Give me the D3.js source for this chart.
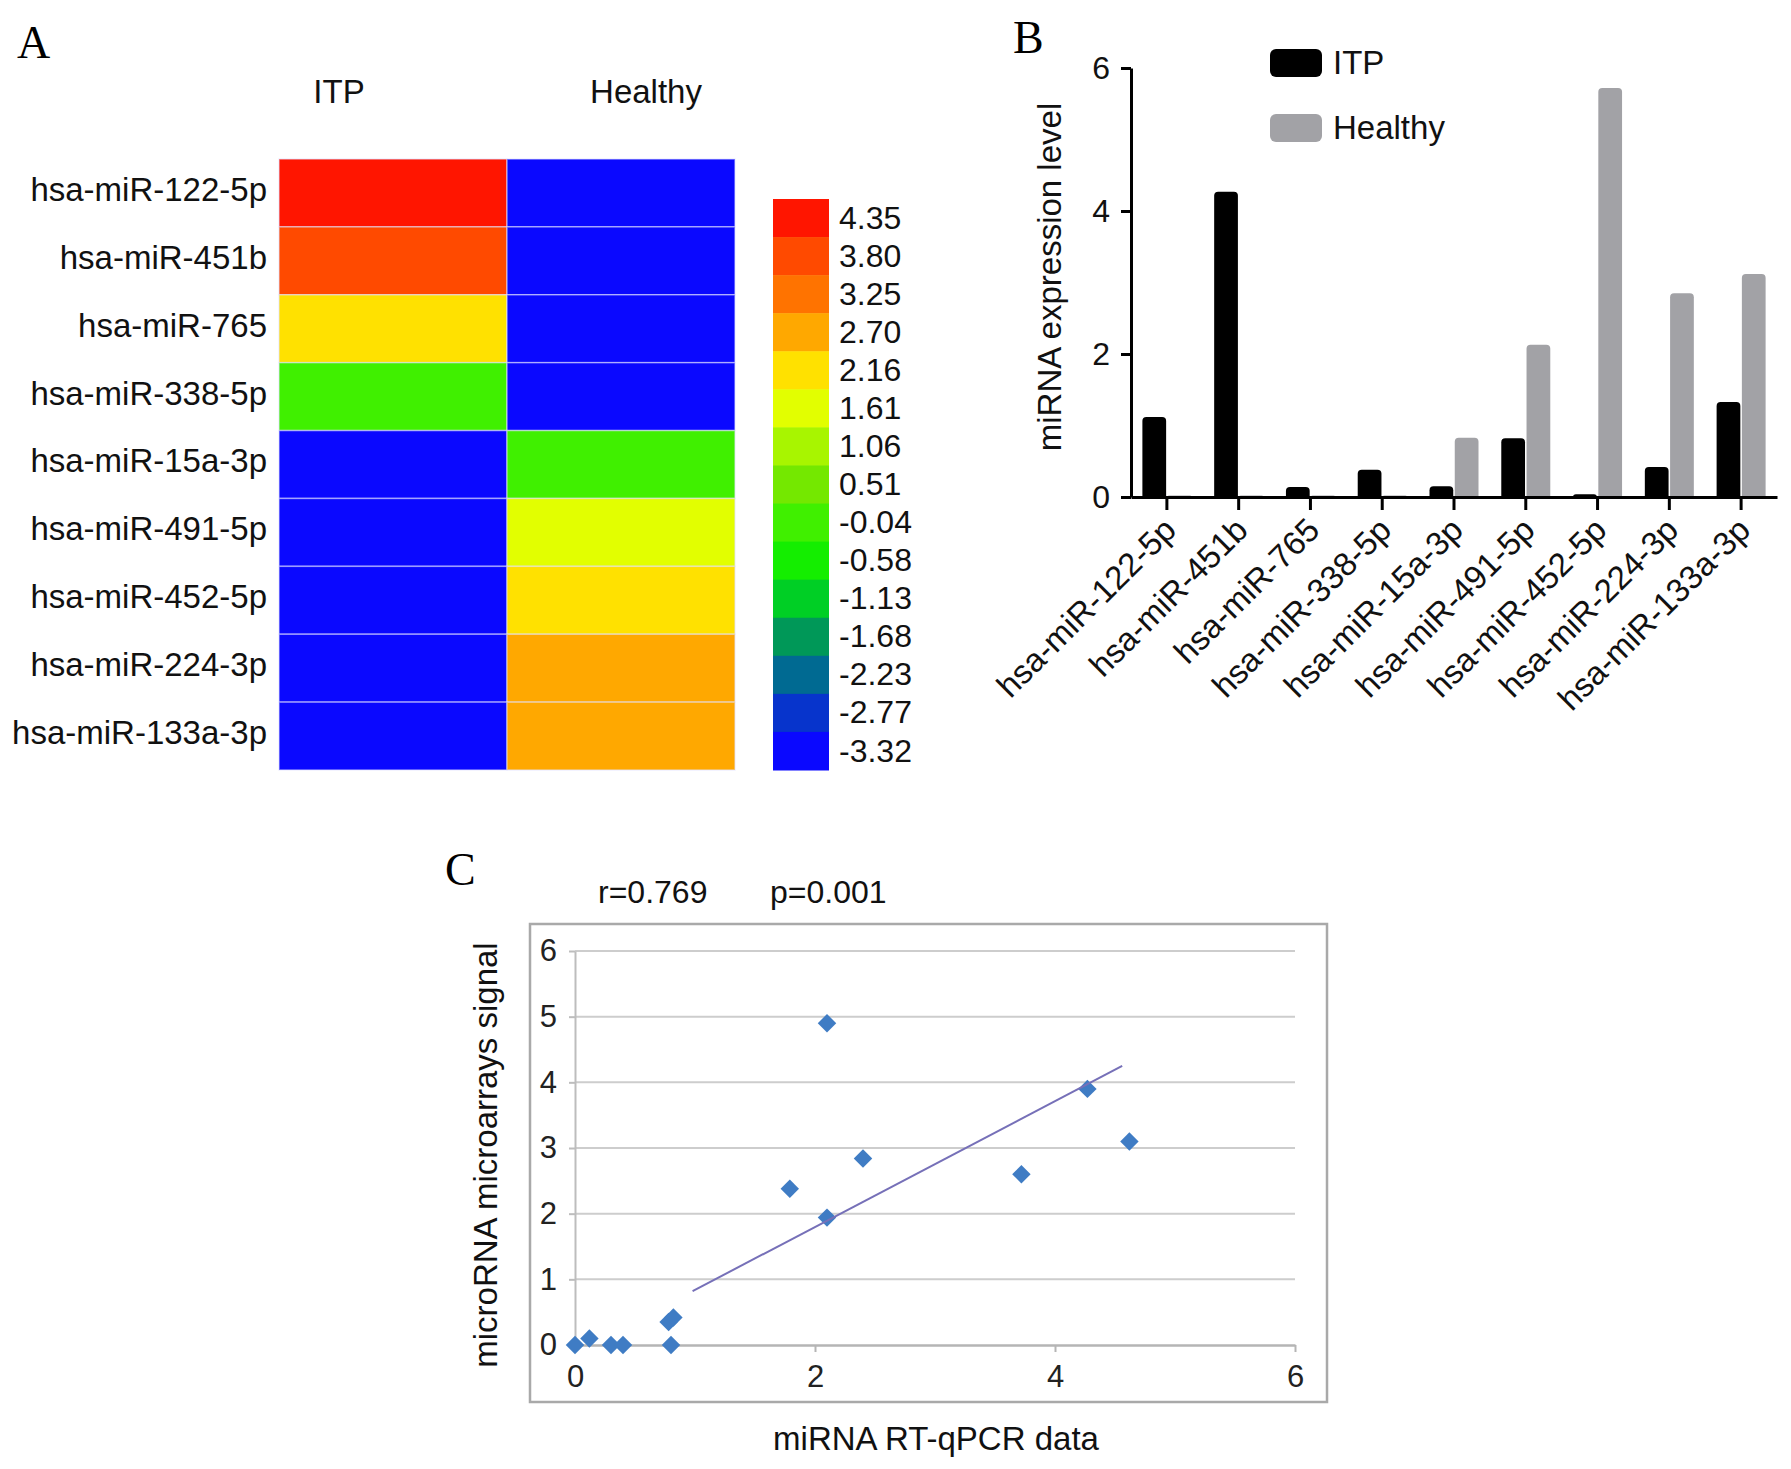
<!DOCTYPE html>
<html><head><meta charset="utf-8">
<script src="https://cdn.jsdelivr.net/npm/d3@7"></script>
<style>
body{margin:0;background:#fff}
svg text{font-family:"Liberation Sans",Arial,Helvetica,sans-serif;}
.serif{font-family:"Liberation Serif","Times New Roman",serif !important;}
</style>
</head><body>
<svg id="fig" width="1791" height="1469"></svg>
<script>
// ---------------- data ----------------
const mirnas = ["hsa-miR-122-5p","hsa-miR-451b","hsa-miR-765","hsa-miR-338-5p","hsa-miR-15a-3p","hsa-miR-491-5p","hsa-miR-452-5p","hsa-miR-224-3p","hsa-miR-133a-3p"];
const groups = ["ITP","Healthy"];
// panel A heatmap values (colour-bin values)
const heatITP     = [4.35, 3.80, 2.16, -0.04, -3.32, -3.32, -3.32, -3.32, -3.32];
const heatHealthy = [-3.32, -3.32, -3.32, -3.32, -0.04, 1.61, 2.16, 2.70, 2.70];
const scaleLabels = ["4.35","3.80","3.25","2.70","2.16","1.61","1.06","0.51","-0.04","-0.58","-1.13","-1.68","-2.23","-2.77","-3.32"];
const scaleColors = ["#FF1500","#FF4A00","#FF7300","#FFA800","#FFE100","#E2FF00","#A8F500","#74E800","#40F000","#14EE00","#00CF25","#009858","#006A92","#0734CC","#0A08FF"];
// panel B bar values
const barITP     = [1.12, 4.27, 0.14, 0.38, 0.15, 0.82, 0.04, 0.42, 1.33];
const barHealthy = [0.02, 0.02, 0.02, 0.02, 0.83, 2.13, 5.72, 2.85, 3.12];
const barTicks = [0, 2, 4, 6];
// panel C scatter values
const scatterX = [0.00, 0.12, 0.30, 0.40, 0.80, 0.78, 0.82, 1.79, 2.10, 2.10, 2.40, 3.72, 4.27, 4.62];
const scatterY = [0.00, 0.10, 0.00, 0.00, 0.00, 0.35, 0.42, 2.38, 4.90, 1.94, 2.84, 2.60, 3.90, 3.10];
const trendX = [0.98, 4.56];
const trendY = [0.82, 4.25];
const scatterYTicks = [0, 1, 2, 3, 4, 5, 6];
const scatterXTicks = [0, 2, 4, 6];
const statsText = ["r=0.769", "p=0.001"];

const svg = d3.select("#fig");

// ---------------- Panel A ----------------
svg.append("text").attr("class","serif").attr("x",17).attr("y",58).attr("font-size",46).text("A");

const hx = d3.scaleBand().domain(groups).range([279, 735]);
const hy = d3.scaleBand().domain(mirnas).range([159, 770]);
const binVals = scaleLabels.map(Number);
const asc = binVals.map((v,i)=>({v,c:scaleColors[i]})).sort((a,b)=>a.v-b.v);
const thr = asc.slice(1).map((d,i)=>(d.v+asc[i].v)/2);
const color = d3.scaleThreshold().domain(thr).range(asc.map(d=>d.c));

const cells = [];
mirnas.forEach((m,i)=>{
  cells.push({m, g:"ITP", v:heatITP[i]});
  cells.push({m, g:"Healthy", v:heatHealthy[i]});
});
const gA = svg.append("g");
gA.selectAll("rect.cell").data(cells).join("rect")
  .attr("class","cell")
  .attr("x", d=>hx(d.g)).attr("y", d=>hy(d.m))
  .attr("width", hx.bandwidth()).attr("height", hy.bandwidth())
  .attr("fill", d=>color(d.v))
  .attr("stroke","rgba(225,225,255,0.55)").attr("stroke-width",1.5);

gA.selectAll("text.row").data(mirnas).join("text")
  .attr("class","row")
  .attr("x", 267).attr("y", d=>hy(d)+hy.bandwidth()/2)
  .attr("dy","0.24em").attr("text-anchor","end")
  .attr("font-size",33).attr("fill","#111").text(d=>d);

const headerX = {"ITP":339, "Healthy":646};
gA.selectAll("text.hdr").data(groups).join("text")
  .attr("class","hdr")
  .attr("x", d=>headerX[d]).attr("y",103).attr("text-anchor","middle")
  .attr("font-size",33).attr("fill","#111").text(d=>d);

// colour bar
const cy = d3.scaleBand().domain(scaleLabels).range([199, 770]);
gA.selectAll("rect.bin").data(scaleLabels).join("rect")
  .attr("class","bin")
  .attr("x",773).attr("width",56)
  .attr("y", d=>cy(d)).attr("height", cy.bandwidth()+0.5)
  .attr("fill", (d,i)=>scaleColors[i]);
gA.selectAll("text.bin").data(scaleLabels).join("text")
  .attr("class","bin")
  .attr("x",839).attr("y", d=>cy(d)+cy.bandwidth()/2)
  .attr("dy","0.33em").attr("font-size",32).attr("fill","#111").text(d=>d);

// ---------------- Panel B ----------------
svg.append("text").attr("class","serif").attr("x",1013).attr("y",53).attr("font-size",46).text("B");

const by = d3.scaleLinear().domain([0,6]).range([497, 68]);
const bx0 = d3.scaleBand().domain(mirnas).range([1131, 1777]);
const bx1 = d3.scaleBand().domain(groups).range([-24.5, 24.5]).paddingInner(0.06);
const barColor = {"ITP":"#000000","Healthy":"#A2A2A6"};

const gB = svg.append("g");
function topRounded(x,y,w,h,r){
  r = Math.min(r, h, w/2);
  return `M${x},${y+h}V${y+r}Q${x},${y} ${x+r},${y}H${x+w-r}Q${x+w},${y} ${x+w},${y+r}V${y+h}Z`;
}
const bars = [];
mirnas.forEach((m,i)=>{
  bars.push({m,g:"ITP",v:barITP[i]});
  bars.push({m,g:"Healthy",v:barHealthy[i]});
});
gB.selectAll("path.bar").data(bars).join("path")
  .attr("class","bar")
  .attr("fill", d=>barColor[d.g])
  .attr("d", d=>{
    const x = bx0(d.m) + bx0.bandwidth()/2 + bx1(d.g);
    const y = by(d.v);
    return topRounded(x, y, bx1.bandwidth(), by(0)-y, 4);
  });

const yAxisB = gB.append("g").attr("transform","translate(1131,0)")
  .call(d3.axisLeft(by).tickValues(barTicks).tickSize(10).tickSizeOuter(0).tickPadding(11).tickFormat(d3.format("d")));
yAxisB.select(".domain").attr("stroke-width",3);
yAxisB.selectAll(".tick line").attr("stroke-width",3);
yAxisB.selectAll(".tick text").attr("font-size",32).attr("fill","#111").attr("font-family","Liberation Sans, Arial, sans-serif");

const xAxisB = gB.append("g").attr("transform","translate(0,497)")
  .call(d3.axisBottom(bx0).tickSize(13).tickSizeOuter(0).tickFormat(""));
xAxisB.select(".domain").attr("stroke-width",3);
xAxisB.selectAll(".tick line").attr("stroke-width",3);

gB.selectAll("text.xl").data(mirnas).join("text")
  .attr("class","xl")
  .attr("transform", d=>`translate(${bx0(d)+bx0.bandwidth()/2+11},532) rotate(-45)`)
  .attr("text-anchor","end").attr("font-size",33).attr("fill","#111").text(d=>d);

gB.append("text")
  .attr("transform","translate(1061,277) rotate(-90)")
  .attr("text-anchor","middle").attr("font-size",33).attr("fill","#111")
  .text("miRNA expression level");

// legend
const legY = {"ITP":49, "Healthy":114};
const leg = gB.selectAll("g.leg").data(groups).join("g").attr("class","leg");
leg.append("rect").attr("x",1270).attr("y",d=>legY[d]).attr("width",52).attr("height",28)
  .attr("rx",6).attr("fill",d=>barColor[d]);
leg.append("text").attr("x",1333).attr("y",d=>legY[d]+25).attr("font-size",33).attr("fill","#111").text(d=>d);

// ---------------- Panel C ----------------
svg.append("text").attr("class","serif").attr("x",445).attr("y",885).attr("font-size",46).text("C");

const sx = d3.scaleLinear().domain([0,6]).range([575, 1295]);
const sy = d3.scaleLinear().domain([0,6]).range([1345, 951]);
const gC = svg.append("g");

gC.append("rect").attr("x",530).attr("y",924).attr("width",797).attr("height",478)
  .attr("fill","none").attr("stroke","#A9A9A9").attr("stroke-width",2.5);

gC.selectAll("line.grid").data(scatterYTicks.filter(t=>t>0)).join("line")
  .attr("class","grid")
  .attr("x1",sx(0)).attr("x2",sx(6))
  .attr("y1",d=>sy(d)).attr("y2",d=>sy(d))
  .attr("stroke","#CDCDCD").attr("stroke-width",2);

const yAxisC = gC.append("g").attr("transform",`translate(${sx(0)},0)`)
  .call(d3.axisLeft(sy).tickValues(scatterYTicks).tickSize(6).tickSizeOuter(0).tickPadding(12).tickFormat(d3.format("d")));
yAxisC.attr("color","#BDBDBD");
yAxisC.select(".domain").attr("stroke-width",2);
yAxisC.selectAll(".tick line").attr("stroke-width",2);
yAxisC.selectAll(".tick text").attr("font-size",31).attr("fill","#222").attr("font-family","Liberation Sans, Arial, sans-serif");

const xAxisC = gC.append("g").attr("transform",`translate(0,${sy(0)})`)
  .call(d3.axisBottom(sx).tickValues(scatterXTicks).tickSize(7).tickSizeOuter(0).tickPadding(13).tickFormat(d3.format("d")));
xAxisC.attr("color","#B5B5B5");
xAxisC.select(".domain").attr("stroke-width",2.5);
xAxisC.selectAll(".tick line").attr("stroke-width",2);
xAxisC.selectAll(".tick text").attr("font-size",31).attr("fill","#222").attr("font-family","Liberation Sans, Arial, sans-serif");

const pts = scatterX.map((x,i)=>({x, y:scatterY[i]}));
const diamond = d3.symbol().type(d3.symbolSquare).size(170);
gC.selectAll("path.pt").data(pts).join("path")
  .attr("class","pt")
  .attr("transform", d=>`translate(${sx(d.x)},${sy(d.y)}) rotate(45)`)
  .attr("d", diamond).attr("fill","#3F7CC4");

gC.append("line")
  .attr("x1",sx(trendX[0])).attr("y1",sy(trendY[0]))
  .attr("x2",sx(trendX[1])).attr("y2",sy(trendY[1]))
  .attr("stroke","#7670B8").attr("stroke-width",2);

const statX = [598, 770];
gC.selectAll("text.stat").data(statsText).join("text")
  .attr("class","stat").attr("x",(d,i)=>statX[i]).attr("y",903)
  .attr("font-size",32).attr("fill","#111").text(d=>d);

gC.append("text").attr("x",936).attr("y",1450).attr("text-anchor","middle")
  .attr("font-size",33).attr("fill","#111").text("miRNA RT-qPCR data");
gC.append("text").attr("transform","translate(497,1155) rotate(-90)")
  .attr("text-anchor","middle").attr("font-size",33).attr("fill","#111")
  .text("microRNA microarrays signal");
</script>
</body></html>
